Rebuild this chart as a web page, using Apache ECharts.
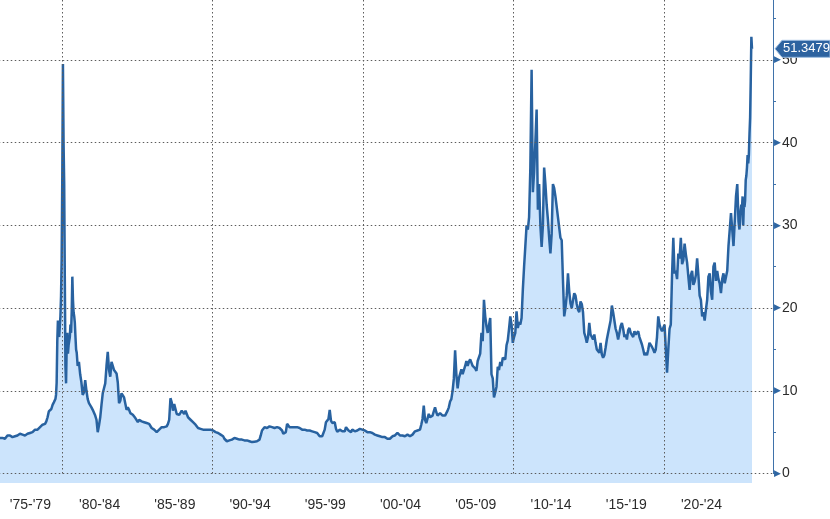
<!DOCTYPE html>
<html>
<head>
<meta charset="utf-8">
<script src="https://cdn.jsdelivr.net/npm/echarts@6/dist/echarts.min.js"></script>
<style>
  html, body { margin: 0; padding: 0; background: #ffffff; }
  #chart { width: 830px; height: 519px; }
</style>
</head>
<body>
<div id="chart"></div>
<script>
// ---- Data ----
// x labels, one per 5-year block
const xLabels = ["'75-'79", "'80-'84", "'85-'89", "'90-'94", "'95-'99",
                 "'00-'04", "'05-'09", "'10-'14", "'15-'19", "'20-'24"];
const vGridYears = [1980, 1990, 2000, 2010, 2020];
const hGridValues = [0, 10, 20, 30, 40, 50];

// monthly, Nov 1975 .. Jun 1979
const m1975 = [4.3, 4.2,
  4.3, 4.2, 4.2, 4.4, 4.6, 4.7, 4.6, 4.4, 4.4, 4.5, 4.5, 4.6,
  4.6, 4.7, 4.8, 4.8, 4.7, 4.6, 4.6, 4.7, 4.8, 4.9, 4.9, 4.9,
  5.0, 5.1, 5.3, 5.2, 5.3, 5.5, 5.6, 5.7, 5.9, 6.1, 6.0, 6.3,
  6.8, 7.5, 7.6, 7.8, 8.3, 8.6];
// half-monthly, Jul 1979 .. Dec 1980
const h1979 = [8.6, 9.0, 9.5, 11.0, 16.0, 18.5, 17.0, 16.5, 16.3, 19.0, 21.5, 26.0,
  36.0, 49.5, 40.0, 35.0, 23.5, 13.0, 10.9, 15.5, 17.0, 14.5, 15.5, 16.0,
  16.5, 18.0, 17.0, 19.5, 23.8, 21.0, 19.5, 19.0, 18.2, 16.5, 15.0, 14.6];
// monthly, 1981 .. 1984
const m1981 = [13.0, 13.5, 12.0, 11.0, 9.5, 9.8, 11.3, 10.0, 9.0, 8.5, 8.3, 8.0,
  7.7, 7.5, 7.0, 6.5, 5.0, 5.8, 6.8, 8.3, 9.7, 10.3, 10.9, 13.0,
  14.7, 12.5, 11.7, 13.5, 13.0, 12.5, 12.3, 12.1, 11.0, 8.5, 8.8, 9.7,
  9.5, 9.2, 9.2, 7.7, 8.0, 7.7, 7.3, 7.2, 7.1, 6.9, 6.7, 6.5];
// monthly, 1985 .. 1989
const m1985 = [6.2, 6.5, 6.3, 6.3, 6.2, 6.2, 6.2, 6.1, 6.0, 6.0, 5.8, 5.5,
  5.5, 5.3, 5.1, 5.0, 5.1, 5.3, 5.5, 5.6, 5.6, 5.6, 5.6, 5.7,
  6.0, 6.5, 9.1, 8.6, 7.6, 8.4, 7.8, 7.2, 7.0, 7.1, 7.3, 7.6,
  7.4, 7.2, 7.6, 7.2, 6.8, 6.6, 6.5, 6.4, 6.2, 6.0, 5.9, 5.7,
  5.5, 5.4, 5.4, 5.4, 5.3, 5.3, 5.3, 5.3, 5.3, 5.3, 5.3, 5.2];
// monthly, 1990 .. 1994
const m1990 = [5.2, 5.1, 5.0, 4.8, 4.9, 4.8, 4.7, 4.6, 4.5, 4.2, 4.0, 3.9,
  4.0, 4.0, 3.9, 4.1, 4.2, 4.3, 4.3, 4.2, 4.2, 4.1, 4.1, 4.1,
  4.1, 4.0, 4.0, 4.0, 4.0, 3.9, 3.9, 3.8, 3.9, 3.85, 3.9, 3.9,
  4.0, 4.1, 4.6, 5.2, 5.4, 5.6, 5.6, 5.5, 5.6, 5.7, 5.8, 5.6,
  5.4, 5.5, 5.3, 5.6, 5.6, 5.5, 5.3, 5.2, 4.8, 4.6, 5.0, 6.0];
// monthly, 1995 .. 1999
const m1995 = [5.9, 5.6, 5.5, 5.6, 5.5, 5.6, 5.7, 5.6, 5.6, 5.5, 5.4, 5.3,
  5.2, 5.3, 5.2, 5.2, 5.3, 5.2, 5.2, 5.1, 5.1, 5.0, 5.0, 4.9,
  4.8, 4.5, 4.4, 4.5, 4.7, 5.3, 6.2, 6.4, 6.6, 7.7, 6.4, 6.1,
  6.0, 6.2, 5.4, 5.05, 5.2, 5.3, 5.4, 5.1, 5.3, 5.1, 5.6, 5.4,
  5.2, 5.1, 5.0, 5.3, 5.2, 5.1, 5.3, 5.2, 5.3, 5.4, 5.3, 5.3];
// monthly, 2000 .. 2004
const m2000 = [5.3, 5.2, 5.1, 5.0, 5.0, 5.0, 4.9, 4.9, 4.8, 4.7, 4.6, 4.6,
  4.6, 4.5, 4.4, 4.4, 4.3, 4.4, 4.3, 4.2, 4.3, 4.2, 4.4, 4.5,
  4.5, 4.6, 4.7, 4.9, 4.7, 4.6, 4.5, 4.6, 4.5, 4.5, 4.6, 4.7,
  4.7, 4.5, 4.6, 4.7, 4.8, 5.1, 5.3, 5.2, 5.0, 5.3, 5.9, 6.6,
  8.2, 6.5, 6.1, 6.3, 7.2, 6.8, 6.6, 7.0, 7.5, 8.0, 7.4, 7.0];
// monthly, 2005 .. 2009
const m2005 = [7.0, 7.3, 7.1, 7.0, 7.2, 7.0, 7.2, 7.6, 8.0, 8.7, 9.0, 10.0,
  11.5, 14.9, 12.0, 10.3, 11.5, 11.3, 12.6, 12.0, 11.8, 13.0, 13.6, 13.0,
  13.5, 13.8, 13.4, 13.0, 13.0, 12.7, 12.4, 13.6, 13.5, 14.5, 17.0, 16.0,
  21.0, 19.0, 17.8, 17.0, 17.0, 18.8, 12.0, 11.5, 9.2, 9.8, 10.5, 12.9,
  12.5, 13.5, 13.0, 14.0, 14.0, 13.8, 15.5, 16.1, 17.5, 19.0, 18.0, 15.8];
// monthly, 2010 .. 2014
const m2010 = [16.5, 17.0, 19.6, 17.6, 18.3, 18.0, 18.8, 22.2, 25.0, 27.5, 30.0, 29.5,
  31.0, 37.0, 48.8, 34.0, 36.5, 40.0, 44.0, 31.9, 35.0, 30.0, 27.4, 30.0,
  37.0, 35.0, 32.5, 30.7, 28.5, 26.6, 29.0, 35.0, 34.5, 33.5, 33.5, 31.0,
  31.0, 28.5, 28.2, 23.4, 19.0, 20.0, 21.5, 24.2, 22.0, 20.6, 20.0, 19.8,
  21.8, 21.5, 20.5, 19.8, 19.5, 20.8, 20.5, 19.5, 17.0, 16.5, 15.8, 16.5];
// monthly, 2015 .. 2019
const m2015 = [18.2, 16.8, 16.5, 16.2, 16.8, 15.8, 15.0, 14.9, 14.6, 15.8, 14.4, 14.0,
  14.3, 15.2, 16.2, 17.0, 17.2, 18.5, 20.3, 19.5, 18.5, 17.5, 17.0, 16.2,
  17.0, 17.8, 18.2, 17.5, 16.5, 16.8, 16.2, 17.3, 17.6, 17.0, 17.1, 16.5,
  17.2, 16.8, 16.6, 17.2, 16.5, 16.3, 15.6, 15.0, 14.3, 14.6, 14.3, 15.0,
  15.8, 15.8, 15.3, 15.0, 14.6, 15.0, 16.5, 19.0, 18.0, 17.5, 17.2, 17.3];
// monthly, 2020 .. 2024
const m2020 = [18.0, 17.8, 12.2, 15.0, 17.5, 18.0, 24.0, 28.5, 24.2, 24.5, 23.5, 26.6,
  26.0, 28.5, 25.3, 25.8, 27.8, 26.5, 25.5, 23.8, 22.2, 24.0, 24.5, 22.8,
  23.2, 24.0, 26.0, 24.0, 21.5, 21.0, 19.0, 19.5, 18.5, 19.8, 21.0, 23.8,
  24.2, 22.0, 21.0, 25.0, 25.5, 23.3, 24.5, 23.5, 23.0, 21.8, 23.5, 24.2,
  23.0, 22.8, 24.5, 27.5, 29.5, 31.5, 29.5, 27.5, 30.5, 33.5, 35.0, 30.5];
// half-monthly, Jan 2025 .. first half of Nov 2025 (last = latest value)
const h2025 = [29.5, 30.5, 31.8, 32.5, 32.0, 33.5, 30.0, 32.5, 32.2, 33.0, 35.5, 36.0,
  37.0, 38.5, 37.5, 38.5, 41.0, 43.0, 47.5, 52.8, 51.3479];

// ---- build [time, value] pairs ----
const data = [];
function addBlock(year, startIdx, perYear, values) {
  values.forEach(function (v, i) {
    data.push([year + (startIdx + i + 0.5) / perYear, v]);
  });
}
addBlock(1975, 10, 12, m1975);
addBlock(1979, 12, 24, h1979);
addBlock(1981, 0, 12, m1981);
addBlock(1985, 0, 12, m1985);
addBlock(1990, 0, 12, m1990);
addBlock(1995, 0, 12, m1995);
addBlock(2000, 0, 12, m2000);
addBlock(2005, 0, 12, m2005);
addBlock(2010, 0, 12, m2010);
addBlock(2015, 0, 12, m2015);
addBlock(2020, 0, 12, m2020);
addBlock(2025, 0, 24, h2025);

const lastValue = data[data.length - 1][1];
const X_MIN = 1975, X_MAX = 2027.25, Y_MAX = 57.25;

const gridLine = { color: '#5c5c5c', width: 1, type: [1.5, 2.5] };
const labelFont = 'Liberation Sans';

const chart = echarts.init(document.getElementById('chart'), null, { renderer: 'canvas' });
chart.setOption({
  animation: false,
  backgroundColor: '#ffffff',
  grid: { left: -13.25, right: 57, top: 0, bottom: 45.5, containLabel: false, outerBoundsMode: 'none' },
  xAxis: {
    type: 'value',
    min: X_MIN,
    max: X_MAX,
    interval: 2.5,
    axisLine: { show: false },
    axisTick: { show: false },
    splitLine: { show: false },
    axisLabel: {
      margin: 25,
      fontFamily: labelFont,
      fontSize: 14,
      color: '#2b2b2b',
      showMinLabel: true,
      showMaxLabel: true,
      formatter: function (v) {
        const k = (v - 1977.5) / 5;
        const r = Math.round(k);
        if (Math.abs(k - r) < 1e-6 && r >= 0 && r < xLabels.length) {
          return r === 0 ? '{f|' + xLabels[0] + '}' : xLabels[r];
        }
        return '';
      },
      rich: {
        f: { fontFamily: labelFont, fontSize: 14, color: '#2b2b2b', padding: [0, 0, 0, 12] }
      }
    }
  },
  yAxis: {
    type: 'value',
    position: 'right',
    min: 0,
    max: Y_MAX,
    interval: 5,
    axisLine: { show: true, lineStyle: { color: '#3f72aa', width: 1 } },
    axisTick: { show: true, length: 3, lineStyle: { color: '#3f72aa' } },
    splitLine: { show: false },
    axisLabel: {
      margin: 1,
      showMaxLabel: false,
      formatter: function (v) {
        if (Math.abs(v % 10) < 1e-9) return '{t|\u25B6}{n|' + v + '}';
        return '';
      },
      rich: {
        t: { fontFamily: 'DejaVu Sans', fontSize: 9, color: '#2f66a2', lineHeight: 16, verticalAlign: 'middle' },
        n: { fontFamily: labelFont, fontSize: 14, color: '#2b2b2b', lineHeight: 16, padding: [0, 0, 0, 1], verticalAlign: 'middle' }
      }
    }
  },
  series: [{
    type: 'line',
    data: data,
    showSymbol: false,
    symbol: 'none',
    clip: false,
    lineStyle: { color: '#2862a0', width: 2.5 },
    areaStyle: { color: '#cce4fc', opacity: 1, origin: -1.15 },
    z: 2,
    markLine: {
      silent: true,
      symbol: ['none', 'none'],
      label: { show: false },
      lineStyle: gridLine,
      animation: false,
      data: vGridYears.map(function (y) { return { xAxis: y }; })
        .concat(hGridValues.map(function (v) { return { yAxis: v }; }))
    }
  }]
});

// price tag at the latest value, positioned through the axes
function drawTag() {
  const p = chart.convertToPixel({ gridIndex: 0 }, [X_MAX, lastValue]);
  const ax = p[0], yc = p[1];
  chart.setOption({
    graphic: [{
      type: 'polygon',
      shape: { points: [[ax + 2, yc], [ax + 9, yc - 8.5], [830, yc - 8.5], [830, yc + 8.5], [ax + 9, yc + 8.5]] },
      style: { fill: '#2d63a0', stroke: '#9dbde0', lineWidth: 1 },
      z: 100
    }, {
      type: 'text',
      x: ax + 10,
      y: yc,
      style: {
        text: String(lastValue),
        fill: '#ffffff',
        font: '13px "Liberation Sans"',
        verticalAlign: 'middle',
        align: 'left'
      },
      z: 101
    }]
  });
}
drawTag();
</script>
</body>
</html>
